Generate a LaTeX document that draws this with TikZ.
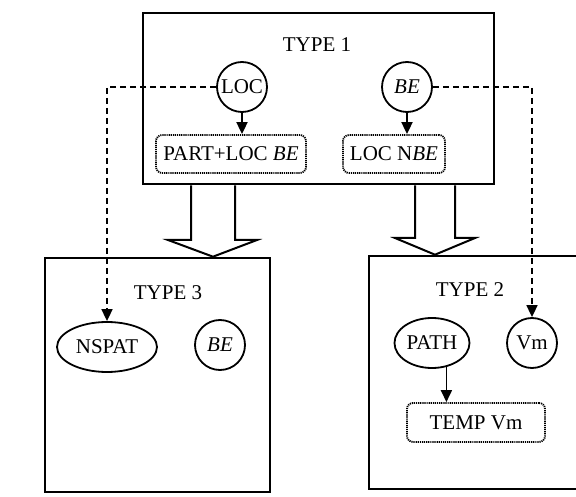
\documentclass[tikz,border=0pt]{standalone}
\usepackage{fontspec}
\setmainfont{Liberation Serif}
\usetikzlibrary{arrows.meta,shapes.geometric,calc}
\begin{document}
\begin{tikzpicture}[x=1pt,y=-1pt,
  font=\fontsize{21}{25}\selectfont,
  bigbox/.style={draw,line width=2.6pt,inner sep=0pt},
  circ/.style={draw,circle,line width=1.8pt,minimum size=50pt,inner sep=0pt},
  ell/.style={draw,ellipse,line width=1.8pt,inner sep=0pt},
  dotbox/.style={draw,line width=1.8pt,dash pattern=on 1.2pt off 0.9pt,rounded corners=6pt,inner sep=0pt},
  arr/.style={-{Triangle[length=12pt,width=11pt]},line width=1.8pt},
  darr/.style={-{Triangle[length=12pt,width=11pt]},line width=1.7pt,dash pattern=on 6pt off 4pt},
  blockarrow/.style={draw,fill=white,line width=2pt,line join=miter}]
\useasboundingbox (0,0) rectangle (576,497);
\clip (0,0) rectangle (576,497);
% big boxes
\node[bigbox,minimum width=351pt,minimum height=171pt] (t1) at (318.5,98.5) {};
\node[bigbox,minimum width=225pt,minimum height=234pt] (t3) at (157.5,375) {};
\node[bigbox,minimum width=213pt,minimum height=233pt] (t2) at (475.5,372.5) {};
% block arrows
\filldraw[blockarrow] (191,0 |- t1.south) -- (191,240) -- (168,240) -- (213,0 |- t3.north) -- (257,240) -- (235,240) -- (235,0 |- t1.south);
\filldraw[blockarrow] (415,0 |- t1.south) -- (415,238) -- (395,238) -- (435,0 |- t2.north) -- (475,238) -- (455,238) -- (455,0 |- t1.south);
% labels
\node (l1) at (317,45) {TYPE 1};
\node (l3) at (168,293) {TYPE 3};
\node (l2) at (470,290) {TYPE 2};
% type 1
\node[circ] (loc) at (242,87) {LOC};
\node[circ] (be1) at (407,87) {\textit{BE}};
\node[dotbox,minimum width=150pt,minimum height=38pt] (part) at (231,154) {PART+LOC \textit{BE}};
\node[dotbox,minimum width=102pt,minimum height=38pt] (locn) at (394,154) {LOC N\textit{BE}};
% type 3
\node[ell,minimum width=100pt,minimum height=50pt] (nspat) at (107,347) {NSPAT};
\node[circ] (be3) at (220,345) {\textit{BE}};
% type 2
\node[ell,minimum width=75pt,minimum height=50pt] (path) at (432,343) {PATH};
\node[circ] (vm) at (532,343) {Vm};
\node[dotbox,minimum width=138pt,minimum height=39pt] (temp) at (476,422.5) {TEMP Vm};
% connectors
\draw[arr] (loc.south) -- (loc.south |- part.north);
\draw[arr] (be1.south) -- (be1.south |- locn.north);
\draw[arr] (path.-59) -- (path.-59 |- temp.north);
\draw[darr] (loc.west) -| (nspat.north);
\draw[darr] (be1.east) -| (vm.north);
\end{tikzpicture}
\end{document}
